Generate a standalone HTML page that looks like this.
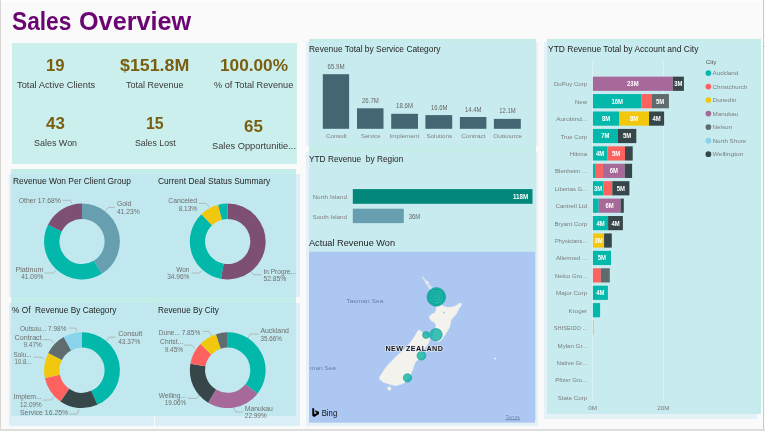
<!DOCTYPE html>
<html lang="en"><head><meta charset="utf-8"><title>Sales Overview</title>
<style>
html,body{margin:0;padding:0}
body{width:765px;height:431px;overflow:hidden;background:#fafafa;position:relative;font-family:"Liberation Sans", sans-serif}
.b{position:absolute}
.t{position:absolute;line-height:1;white-space:nowrap;transform-origin:0 50%;display:block}
svg{position:absolute;left:0;top:0}
svg text{font-family:"Liberation Sans", sans-serif}
#wrap{position:absolute;left:0;top:0;width:765px;height:431px;will-change:transform}
</style></head><body><div id="wrap">
<div class="b" style="left:1px;top:0px;width:764.00px;height:1.50px;background:#fdfdfd"></div>
<div class="b" style="left:0px;top:0px;width:1.00px;height:431.00px;background:#d9d5d3"></div>
<div class="b" style="left:0px;top:429px;width:765.00px;height:2.00px;background:#dedede"></div>
<div class="b" style="left:763px;top:0px;width:1.00px;height:429.00px;background:#c9c9c9"></div>
<div class="b" style="left:763px;top:45.5px;width:2.00px;height:1.00px;background:#c9c9c9"></div>
<div class="b" style="left:12px;top:43px;width:285.00px;height:121.00px;background:#cbefed"></div>
<div class="b" style="left:11px;top:168.5px;width:285.30px;height:247.80px;background:#c4ece8"></div>
<div class="b" style="left:308.6px;top:39.4px;width:227.20px;height:380.60px;background:#c4ece8"></div>
<div class="b" style="left:546.5px;top:39.2px;width:214.00px;height:375.30px;background:#c4ece8"></div>
<div class="b" style="left:9px;top:174px;width:145.40px;height:123.20px;background:rgba(188,229,244,0.52)"></div>
<div class="b" style="left:154.9px;top:174px;width:145.10px;height:123.20px;background:rgba(188,229,244,0.52)"></div>
<div class="b" style="left:9px;top:302.6px;width:145.40px;height:123.40px;background:rgba(188,229,244,0.52)"></div>
<div class="b" style="left:154.9px;top:302.6px;width:145.10px;height:123.40px;background:rgba(188,229,244,0.52)"></div>
<div class="b" style="left:306px;top:42px;width:232.30px;height:104.10px;background:rgba(204,235,246,0.48)"></div>
<div class="b" style="left:306px;top:151.5px;width:232.30px;height:84.50px;background:rgba(204,235,246,0.48)"></div>
<div class="b" style="left:306px;top:236px;width:232.30px;height:189.90px;background:rgba(204,235,246,0.48)"></div>
<div class="b" style="left:544px;top:41.7px;width:212.50px;height:376.90px;background:rgba(204,235,246,0.48)"></div>
<svg width="765" height="431" viewBox="0 0 765 431">
<path d="M82.00 203.60A37.9 37.9 0 0 1 101.84 273.79L93.83 260.75A22.6 22.6 0 0 0 82.00 218.90Z" fill="#689fb0"/>
<path d="M101.84 273.79A37.9 37.9 0 0 1 48.04 224.68L61.75 231.47A22.6 22.6 0 0 0 93.83 260.75Z" fill="#01b8aa"/>
<path d="M48.04 224.68A37.9 37.9 0 0 1 82.00 203.60L82.00 218.90A22.6 22.6 0 0 0 61.75 231.47Z" fill="#7d4f73"/>
<text x="18.70" y="202.90" font-size="7.1" fill="#6f6f6f" textLength="42.10" lengthAdjust="spacingAndGlyphs" >Other 17.68%</text>
<text x="116.90" y="205.90" font-size="7.1" fill="#6f6f6f" textLength="14.50" lengthAdjust="spacingAndGlyphs" >Gold</text>
<text x="116.90" y="213.60" font-size="7.1" fill="#6f6f6f" textLength="22.70" lengthAdjust="spacingAndGlyphs" >41.23%</text>
<text x="15.40" y="271.70" font-size="7.1" fill="#6f6f6f" textLength="28.00" lengthAdjust="spacingAndGlyphs" >Platinum</text>
<text x="21.20" y="279.40" font-size="7.1" fill="#6f6f6f" textLength="22.20" lengthAdjust="spacingAndGlyphs" >41.09%</text>
<polyline points="62.60,200.30 70.20,200.30 72.00,203.60" fill="none" stroke="#a6a6a6" stroke-width="0.7"/>
<polyline points="105.40,210.50 108.50,207.40 114.90,207.40" fill="none" stroke="#a6a6a6" stroke-width="0.7"/>
<polyline points="44.70,273.00 53.60,273.00 56.20,270.50" fill="none" stroke="#a6a6a6" stroke-width="0.7"/>
<path d="M227.70 203.60A37.9 37.9 0 1 1 220.95 278.79L223.67 263.74A22.6 22.6 0 1 0 227.70 218.90Z" fill="#7d4f73"/>
<path d="M220.95 278.79A37.9 37.9 0 0 1 201.43 214.18L212.03 225.21A22.6 22.6 0 0 0 223.67 263.74Z" fill="#01b8aa"/>
<path d="M201.43 214.18A37.9 37.9 0 0 1 218.14 204.83L222.00 219.63A22.6 22.6 0 0 0 212.03 225.21Z" fill="#f2c80f"/>
<path d="M218.14 204.83A37.9 37.9 0 0 1 227.70 203.60L227.70 218.90A22.6 22.6 0 0 0 222.00 219.63Z" fill="#01b8aa"/>
<text x="168.30" y="202.90" font-size="7.1" fill="#6f6f6f" textLength="28.80" lengthAdjust="spacingAndGlyphs" >Canceled</text>
<text x="178.70" y="210.50" font-size="7.1" fill="#6f6f6f" textLength="18.40" lengthAdjust="spacingAndGlyphs" >8.13%</text>
<text x="176.20" y="271.70" font-size="7.1" fill="#6f6f6f" textLength="13.20" lengthAdjust="spacingAndGlyphs" >Won</text>
<text x="167.20" y="279.40" font-size="7.1" fill="#6f6f6f" textLength="22.20" lengthAdjust="spacingAndGlyphs" >34.96%</text>
<text x="263.40" y="273.50" font-size="7.1" fill="#6f6f6f" textLength="32.60" lengthAdjust="spacingAndGlyphs" >In Progre...</text>
<text x="263.40" y="281.40" font-size="7.1" fill="#6f6f6f" textLength="23.00" lengthAdjust="spacingAndGlyphs" >52.85%</text>
<polyline points="198.90,203.40 206.00,203.40 209.30,207.40" fill="none" stroke="#a6a6a6" stroke-width="0.7"/>
<polyline points="191.50,273.00 199.60,273.00 202.20,270.50" fill="none" stroke="#a6a6a6" stroke-width="0.7"/>
<polyline points="250.70,271.70 254.00,274.80 261.60,274.80" fill="none" stroke="#a6a6a6" stroke-width="0.7"/>
<path d="M82.00 332.30A37.9 37.9 0 0 1 97.34 404.86L91.14 390.87A22.6 22.6 0 0 0 82.00 347.60Z" fill="#01b8aa"/>
<path d="M97.34 404.86A37.9 37.9 0 0 1 60.46 401.38L69.16 388.80A22.6 22.6 0 0 0 91.14 390.87Z" fill="#374649"/>
<path d="M60.46 401.38A37.9 37.9 0 0 1 44.91 377.98L59.88 374.84A22.6 22.6 0 0 0 69.16 388.80Z" fill="#fd625e"/>
<path d="M44.91 377.98A37.9 37.9 0 0 1 48.29 352.89L61.90 359.88A22.6 22.6 0 0 0 59.88 374.84Z" fill="#f2c80f"/>
<path d="M48.29 352.89A37.9 37.9 0 0 1 63.78 336.97L71.14 350.38A22.6 22.6 0 0 0 61.90 359.88Z" fill="#5f6b6d"/>
<path d="M63.78 336.97A37.9 37.9 0 0 1 82.00 332.30L82.00 347.60A22.6 22.6 0 0 0 71.14 350.38Z" fill="#8ad4eb"/>
<text x="20.00" y="330.80" font-size="7.1" fill="#6f6f6f" textLength="46.40" lengthAdjust="spacingAndGlyphs" >Outsou... 7.98%</text>
<text x="14.60" y="339.70" font-size="7.1" fill="#6f6f6f" textLength="27.10" lengthAdjust="spacingAndGlyphs" >Contract</text>
<text x="23.50" y="346.60" font-size="7.1" fill="#6f6f6f" textLength="18.20" lengthAdjust="spacingAndGlyphs" >9.47%</text>
<text x="13.60" y="357.10" font-size="7.1" fill="#6f6f6f" textLength="17.80" lengthAdjust="spacingAndGlyphs" >Solu...</text>
<text x="14.60" y="364.00" font-size="7.1" fill="#6f6f6f" textLength="16.80" lengthAdjust="spacingAndGlyphs" >10.8...</text>
<text x="13.60" y="399.20" font-size="7.1" fill="#6f6f6f" textLength="28.10" lengthAdjust="spacingAndGlyphs" >Implem...</text>
<text x="20.00" y="406.80" font-size="7.1" fill="#6f6f6f" textLength="21.70" lengthAdjust="spacingAndGlyphs" >12.09%</text>
<text x="20.00" y="415.30" font-size="7.1" fill="#6f6f6f" textLength="48.20" lengthAdjust="spacingAndGlyphs" >Service 16.25%</text>
<text x="118.20" y="335.90" font-size="7.1" fill="#6f6f6f" textLength="24.00" lengthAdjust="spacingAndGlyphs" >Consult</text>
<text x="118.20" y="343.60" font-size="7.1" fill="#6f6f6f" textLength="22.20" lengthAdjust="spacingAndGlyphs" >43.37%</text>
<polyline points="69.20,328.10 76.10,328.10 76.60,331.60" fill="none" stroke="#a6a6a6" stroke-width="0.7"/>
<polyline points="42.50,339.70 50.60,339.70 54.10,343.20" fill="none" stroke="#a6a6a6" stroke-width="0.7"/>
<polyline points="33.20,357.10 41.30,357.10 44.10,359.00" fill="none" stroke="#a6a6a6" stroke-width="0.7"/>
<polyline points="42.50,400.00 51.30,400.00 54.10,396.60" fill="none" stroke="#a6a6a6" stroke-width="0.7"/>
<polyline points="69.20,414.00 77.30,414.00 78.90,409.30" fill="none" stroke="#a6a6a6" stroke-width="0.7"/>
<polyline points="106.70,340.50 109.30,337.20 115.60,337.20" fill="none" stroke="#a6a6a6" stroke-width="0.7"/>
<polyline points="203.20,331.40 209.00,331.40 211.50,335.80" fill="none" stroke="#a6a6a6" stroke-width="0.7"/>
<polyline points="184.20,345.10 191.50,345.10 195.20,348.70" fill="none" stroke="#a6a6a6" stroke-width="0.7"/>
<polyline points="187.90,398.40 196.90,398.40 200.00,394.30" fill="none" stroke="#a6a6a6" stroke-width="0.7"/>
<polyline points="247.50,338.30 250.40,334.10 258.50,334.10" fill="none" stroke="#a6a6a6" stroke-width="0.7"/>
<polyline points="233.40,407.20 235.80,412.00 243.10,412.00" fill="none" stroke="#a6a6a6" stroke-width="0.7"/>
<path d="M227.70 332.30A37.9 37.9 0 0 1 257.41 393.73L245.42 384.23A22.6 22.6 0 0 0 227.70 347.60Z" fill="#01b8aa"/>
<path d="M257.41 393.73A37.9 37.9 0 0 1 208.10 402.64L216.01 389.54A22.6 22.6 0 0 0 245.42 384.23Z" fill="#a66999"/>
<path d="M208.10 402.64A37.9 37.9 0 0 1 190.35 363.78L205.43 366.37A22.6 22.6 0 0 0 216.01 389.54Z" fill="#374649"/>
<path d="M190.35 363.78A37.9 37.9 0 0 1 200.33 343.98L211.38 354.56A22.6 22.6 0 0 0 205.43 366.37Z" fill="#fd625e"/>
<path d="M200.33 343.98A37.9 37.9 0 0 1 216.01 334.15L220.73 348.70A22.6 22.6 0 0 0 211.38 354.56Z" fill="#f2c80f"/>
<path d="M216.01 334.15A37.9 37.9 0 0 1 227.70 332.30L227.70 347.60A22.6 22.6 0 0 0 220.73 348.70Z" fill="#5f6b6d"/>
<text x="158.80" y="334.60" font-size="7.1" fill="#6f6f6f" textLength="41.40" lengthAdjust="spacingAndGlyphs" >Dune... 7.85%</text>
<text x="160.10" y="344.30" font-size="7.1" fill="#6f6f6f" textLength="23.00" lengthAdjust="spacingAndGlyphs" >Christ...</text>
<text x="164.70" y="352.00" font-size="7.1" fill="#6f6f6f" textLength="18.40" lengthAdjust="spacingAndGlyphs" >9.45%</text>
<text x="158.80" y="397.90" font-size="7.1" fill="#6f6f6f" textLength="27.30" lengthAdjust="spacingAndGlyphs" >Welling...</text>
<text x="164.70" y="404.80" font-size="7.1" fill="#6f6f6f" textLength="21.40" lengthAdjust="spacingAndGlyphs" >19.06%</text>
<text x="260.40" y="332.90" font-size="7.1" fill="#6f6f6f" textLength="28.50" lengthAdjust="spacingAndGlyphs" >Auckland</text>
<text x="260.40" y="340.50" font-size="7.1" fill="#6f6f6f" textLength="21.40" lengthAdjust="spacingAndGlyphs" >35.66%</text>
<text x="244.80" y="410.70" font-size="7.1" fill="#6f6f6f" textLength="28.10" lengthAdjust="spacingAndGlyphs" >Manukau</text>
<text x="244.80" y="418.30" font-size="7.1" fill="#6f6f6f" textLength="21.90" lengthAdjust="spacingAndGlyphs" >22.99%</text>
<rect x="322.80" y="74.20" width="26.30" height="54.60" fill="#446673" />
<text x="327.50" y="68.70" font-size="6.3" fill="#666" textLength="17.20" lengthAdjust="spacingAndGlyphs" >65.9M</text>
<text x="326.00" y="137.80" font-size="6.0" fill="#808080" textLength="20.70" lengthAdjust="spacingAndGlyphs" >Consult</text>
<rect x="357.00" y="108.30" width="26.50" height="20.50" fill="#446673" />
<text x="362.00" y="102.80" font-size="6.3" fill="#666" textLength="16.80" lengthAdjust="spacingAndGlyphs" >26.7M</text>
<text x="361.00" y="137.80" font-size="6.0" fill="#808080" textLength="19.40" lengthAdjust="spacingAndGlyphs" >Service</text>
<rect x="391.20" y="113.80" width="26.80" height="15.00" fill="#446673" />
<text x="396.00" y="108.30" font-size="6.3" fill="#666" textLength="17.20" lengthAdjust="spacingAndGlyphs" >18.6M</text>
<text x="389.50" y="137.80" font-size="6.0" fill="#808080" textLength="29.80" lengthAdjust="spacingAndGlyphs" >Implement</text>
<rect x="425.40" y="115.10" width="26.80" height="13.70" fill="#446673" />
<text x="431.00" y="109.60" font-size="6.3" fill="#666" textLength="16.40" lengthAdjust="spacingAndGlyphs" >16.6M</text>
<text x="426.50" y="137.80" font-size="6.0" fill="#808080" textLength="25.50" lengthAdjust="spacingAndGlyphs" >Solutions</text>
<rect x="459.90" y="117.00" width="26.50" height="11.80" fill="#446673" />
<text x="465.00" y="111.50" font-size="6.3" fill="#666" textLength="16.60" lengthAdjust="spacingAndGlyphs" >14.4M</text>
<text x="461.30" y="137.80" font-size="6.0" fill="#808080" textLength="24.10" lengthAdjust="spacingAndGlyphs" >Contract</text>
<rect x="493.90" y="118.90" width="26.90" height="9.90" fill="#446673" />
<text x="499.20" y="113.40" font-size="6.3" fill="#666" textLength="16.40" lengthAdjust="spacingAndGlyphs" >12.1M</text>
<text x="493.30" y="137.80" font-size="6.0" fill="#808080" textLength="28.80" lengthAdjust="spacingAndGlyphs" >Outsource</text>
<rect x="352.80" y="189.10" width="179.70" height="14.70" fill="#02877a" />
<rect x="352.80" y="208.70" width="51.00" height="14.40" fill="#689fb0" />
<text x="312.50" y="198.80" font-size="6.0" fill="#808080" textLength="34.50" lengthAdjust="spacingAndGlyphs" >North Island</text>
<text x="312.50" y="218.70" font-size="6.0" fill="#808080" textLength="34.50" lengthAdjust="spacingAndGlyphs" >South Island</text>
<text x="408.80" y="218.70" font-size="6.3" fill="#666" textLength="11.50" lengthAdjust="spacingAndGlyphs" >36M</text>
<text x="512.90" y="198.80" font-size="6.3" fill="#fff" font-weight="700" textLength="15.30" lengthAdjust="spacingAndGlyphs" >118M</text>
<line x1="592.6" y1="61.3" x2="592.6" y2="400.7" stroke="#dcf3f5" stroke-width="1"/>
<line x1="663.4" y1="61.3" x2="663.4" y2="400.7" stroke="#dcf3f5" stroke-width="1"/>
<rect x="592.90" y="76.65" width="79.90" height="14.20" fill="#a66999" />
<text x="627.09" y="86.15" font-size="6.3" fill="#fff" font-weight="700" textLength="11.52" lengthAdjust="spacingAndGlyphs" >23M</text>
<rect x="672.80" y="76.65" width="11.10" height="14.20" fill="#374649" />
<text x="674.24" y="86.15" font-size="6.3" fill="#fff" font-weight="700" textLength="8.23" lengthAdjust="spacingAndGlyphs" >3M</text>
<text x="553.90" y="86.25" font-size="5.9" fill="#7c7c7c" textLength="33.30" lengthAdjust="spacingAndGlyphs" >DuPuy Corp</text>
<rect x="592.90" y="94.07" width="48.60" height="14.20" fill="#01b8aa" />
<text x="611.44" y="103.57" font-size="6.3" fill="#fff" font-weight="700" textLength="11.52" lengthAdjust="spacingAndGlyphs" >16M</text>
<rect x="641.50" y="94.07" width="10.00" height="14.20" fill="#fd625e" />
<rect x="651.50" y="94.07" width="17.40" height="14.20" fill="#5f6b6d" />
<text x="656.09" y="103.57" font-size="6.3" fill="#fff" font-weight="700" textLength="8.23" lengthAdjust="spacingAndGlyphs" >5M</text>
<text x="574.80" y="103.67" font-size="5.9" fill="#7c7c7c" textLength="12.40" lengthAdjust="spacingAndGlyphs" >New</text>
<rect x="592.90" y="111.49" width="26.50" height="14.20" fill="#01b8aa" />
<text x="602.04" y="120.99" font-size="6.3" fill="#fff" font-weight="700" textLength="8.23" lengthAdjust="spacingAndGlyphs" >8M</text>
<rect x="619.40" y="111.49" width="29.60" height="14.20" fill="#f2c80f" />
<text x="630.09" y="120.99" font-size="6.3" fill="#fff" font-weight="700" textLength="8.23" lengthAdjust="spacingAndGlyphs" >8M</text>
<rect x="649.00" y="111.49" width="15.10" height="14.20" fill="#374649" />
<text x="652.44" y="120.99" font-size="6.3" fill="#fff" font-weight="700" textLength="8.23" lengthAdjust="spacingAndGlyphs" >4M</text>
<text x="556.30" y="121.09" font-size="5.9" fill="#7c7c7c" textLength="30.90" lengthAdjust="spacingAndGlyphs" >Aurobind...</text>
<rect x="592.90" y="128.91" width="24.80" height="14.20" fill="#01b8aa" />
<text x="601.19" y="138.41" font-size="6.3" fill="#fff" font-weight="700" textLength="8.23" lengthAdjust="spacingAndGlyphs" >7M</text>
<rect x="617.70" y="128.91" width="18.60" height="14.20" fill="#374649" />
<text x="622.89" y="138.41" font-size="6.3" fill="#fff" font-weight="700" textLength="8.23" lengthAdjust="spacingAndGlyphs" >5M</text>
<text x="560.70" y="138.51" font-size="5.9" fill="#7c7c7c" textLength="26.50" lengthAdjust="spacingAndGlyphs" >True Corp</text>
<rect x="592.90" y="146.33" width="14.40" height="14.20" fill="#01b8aa" />
<text x="595.99" y="155.83" font-size="6.3" fill="#fff" font-weight="700" textLength="8.23" lengthAdjust="spacingAndGlyphs" >4M</text>
<rect x="607.30" y="146.33" width="17.70" height="14.20" fill="#fd625e" />
<text x="612.04" y="155.83" font-size="6.3" fill="#fff" font-weight="700" textLength="8.23" lengthAdjust="spacingAndGlyphs" >5M</text>
<rect x="625.00" y="146.33" width="7.70" height="14.20" fill="#374649" />
<text x="569.70" y="155.93" font-size="5.9" fill="#7c7c7c" textLength="17.50" lengthAdjust="spacingAndGlyphs" >Hikma</text>
<rect x="592.90" y="163.75" width="2.90" height="14.20" fill="#01b8aa" />
<rect x="595.80" y="163.75" width="7.10" height="14.20" fill="#fd625e" />
<rect x="602.90" y="163.75" width="21.90" height="14.20" fill="#a66999" />
<text x="609.74" y="173.25" font-size="6.3" fill="#fff" font-weight="700" textLength="8.23" lengthAdjust="spacingAndGlyphs" >6M</text>
<rect x="624.80" y="163.75" width="7.30" height="14.20" fill="#374649" />
<text x="555.00" y="173.35" font-size="5.9" fill="#7c7c7c" textLength="32.20" lengthAdjust="spacingAndGlyphs" >Blenheim ...</text>
<rect x="592.90" y="181.17" width="10.60" height="14.20" fill="#01b8aa" />
<text x="594.09" y="190.67" font-size="6.3" fill="#fff" font-weight="700" textLength="8.23" lengthAdjust="spacingAndGlyphs" >3M</text>
<rect x="603.50" y="181.17" width="8.80" height="14.20" fill="#fd625e" />
<rect x="612.30" y="181.17" width="17.10" height="14.20" fill="#374649" />
<text x="616.74" y="190.67" font-size="6.3" fill="#fff" font-weight="700" textLength="8.23" lengthAdjust="spacingAndGlyphs" >5M</text>
<text x="554.80" y="190.77" font-size="5.9" fill="#7c7c7c" textLength="32.40" lengthAdjust="spacingAndGlyphs" >Libertas G...</text>
<rect x="592.90" y="198.59" width="5.80" height="14.20" fill="#01b8aa" />
<rect x="598.70" y="198.59" width="21.90" height="14.20" fill="#a66999" />
<text x="605.54" y="208.09" font-size="6.3" fill="#fff" font-weight="700" textLength="8.23" lengthAdjust="spacingAndGlyphs" >6M</text>
<rect x="620.60" y="198.59" width="3.20" height="14.20" fill="#374649" />
<text x="555.40" y="208.19" font-size="5.9" fill="#7c7c7c" textLength="31.80" lengthAdjust="spacingAndGlyphs" >Cantrell Ltd</text>
<rect x="592.90" y="216.01" width="15.20" height="14.20" fill="#01b8aa" />
<text x="596.39" y="225.51" font-size="6.3" fill="#fff" font-weight="700" textLength="8.23" lengthAdjust="spacingAndGlyphs" >4M</text>
<rect x="608.10" y="216.01" width="14.80" height="14.20" fill="#374649" />
<text x="611.39" y="225.51" font-size="6.3" fill="#fff" font-weight="700" textLength="8.23" lengthAdjust="spacingAndGlyphs" >4M</text>
<text x="554.40" y="225.61" font-size="5.9" fill="#7c7c7c" textLength="32.80" lengthAdjust="spacingAndGlyphs" >Bryant Corp</text>
<rect x="592.90" y="233.43" width="11.20" height="14.20" fill="#f2c80f" />
<text x="594.39" y="242.93" font-size="6.3" fill="#fff" font-weight="700" textLength="8.23" lengthAdjust="spacingAndGlyphs" >3M</text>
<rect x="604.10" y="233.43" width="7.70" height="14.20" fill="#374649" />
<text x="555.00" y="243.03" font-size="5.9" fill="#7c7c7c" textLength="32.20" lengthAdjust="spacingAndGlyphs" >Physicians...</text>
<rect x="592.90" y="250.85" width="18.10" height="14.20" fill="#01b8aa" />
<text x="597.84" y="260.35" font-size="6.3" fill="#fff" font-weight="700" textLength="8.23" lengthAdjust="spacingAndGlyphs" >5M</text>
<text x="555.90" y="260.45" font-size="5.9" fill="#7c7c7c" textLength="31.30" lengthAdjust="spacingAndGlyphs" >Allermed ...</text>
<rect x="592.90" y="268.27" width="7.90" height="14.20" fill="#fd625e" />
<rect x="600.80" y="268.27" width="9.00" height="14.20" fill="#5f6b6d" />
<text x="554.80" y="277.87" font-size="5.9" fill="#7c7c7c" textLength="32.40" lengthAdjust="spacingAndGlyphs" >Nelco Gro...</text>
<rect x="592.90" y="285.69" width="15.00" height="14.20" fill="#01b8aa" />
<text x="596.29" y="295.19" font-size="6.3" fill="#fff" font-weight="700" textLength="8.23" lengthAdjust="spacingAndGlyphs" >4M</text>
<text x="556.10" y="295.29" font-size="5.9" fill="#7c7c7c" textLength="31.10" lengthAdjust="spacingAndGlyphs" >Major Corp</text>
<rect x="592.90" y="303.11" width="7.20" height="14.20" fill="#01b8aa" />
<text x="568.60" y="312.71" font-size="5.9" fill="#7c7c7c" textLength="18.60" lengthAdjust="spacingAndGlyphs" >Kroger</text>
<rect x="592.90" y="320.53" width="0.90" height="14.20" fill="#f2c80f" />
<text x="553.80" y="330.13" font-size="5.9" fill="#7c7c7c" textLength="33.40" lengthAdjust="spacingAndGlyphs" >SHISEIDO ...</text>
<text x="557.60" y="347.55" font-size="5.9" fill="#7c7c7c" textLength="29.60" lengthAdjust="spacingAndGlyphs" >Mylan Gr...</text>
<text x="556.50" y="364.97" font-size="5.9" fill="#7c7c7c" textLength="30.70" lengthAdjust="spacingAndGlyphs" >Native Gr...</text>
<text x="555.20" y="382.39" font-size="5.9" fill="#7c7c7c" textLength="32.00" lengthAdjust="spacingAndGlyphs" >Pfizer Gro...</text>
<text x="557.80" y="399.81" font-size="5.9" fill="#7c7c7c" textLength="29.40" lengthAdjust="spacingAndGlyphs" >State Corp</text>
<text x="588.20" y="410.00" font-size="5.9" fill="#7c7c7c" textLength="8.80" lengthAdjust="spacingAndGlyphs" >0M</text>
<text x="657.15" y="410.00" font-size="5.9" fill="#7c7c7c" textLength="12.30" lengthAdjust="spacingAndGlyphs" >20M</text>
<text x="705.70" y="64.20" font-size="6.0" fill="#555" textLength="10.70" lengthAdjust="spacingAndGlyphs" >City</text>
<circle cx="708.4" cy="73.00" r="2.85" fill="#01b8aa"/>
<text x="712.60" y="75.20" font-size="5.9" fill="#7c7c7c" textLength="25.70" lengthAdjust="spacingAndGlyphs" >Auckland</text>
<circle cx="708.4" cy="86.53" r="2.85" fill="#fd625e"/>
<text x="712.60" y="88.73" font-size="5.9" fill="#7c7c7c" textLength="34.80" lengthAdjust="spacingAndGlyphs" >Christchurch</text>
<circle cx="708.4" cy="100.06" r="2.85" fill="#f2c80f"/>
<text x="712.60" y="102.26" font-size="5.9" fill="#7c7c7c" textLength="23.80" lengthAdjust="spacingAndGlyphs" >Dunedin</text>
<circle cx="708.4" cy="113.59" r="2.85" fill="#a66999"/>
<text x="712.60" y="115.79" font-size="5.9" fill="#7c7c7c" textLength="25.70" lengthAdjust="spacingAndGlyphs" >Manukau</text>
<circle cx="708.4" cy="127.12" r="2.85" fill="#5f6b6d"/>
<text x="712.60" y="129.32" font-size="5.9" fill="#7c7c7c" textLength="19.50" lengthAdjust="spacingAndGlyphs" >Nelson</text>
<circle cx="708.4" cy="140.65" r="2.85" fill="#8ad4eb"/>
<text x="712.60" y="142.85" font-size="5.9" fill="#7c7c7c" textLength="33.70" lengthAdjust="spacingAndGlyphs" >North Shore</text>
<circle cx="708.4" cy="154.18" r="2.85" fill="#374649"/>
<text x="712.60" y="156.38" font-size="5.9" fill="#7c7c7c" textLength="30.80" lengthAdjust="spacingAndGlyphs" >Wellington</text>
<rect x="309.00" y="251.80" width="226.10" height="170.90" fill="#abc7f2" />
<polygon points="421.8,276.2 422.8,276.4 424.6,278.4 426.4,280.6 428.2,281.8 429.4,283.6 430.6,285.6 432.6,287.6 434.8,290.2 437.4,293.6 439.6,298.0 436.4,301.0 434.4,298.0 432.6,295.0 430.6,291.6 428.6,288.2 426.6,284.8 424.8,281.6 423.2,279.0 421.8,277.2" fill="#f4f2ed" fill-opacity="0.62"/>
<ellipse cx="426.9" cy="282.3" rx="1.5" ry="1.2" fill="#f4f2ed" fill-opacity="0.8"/>
<polygon points="436.6,300.0 439.5,299.0 440.6,302.5 441.6,305.0 444.0,306.6 447.4,307.4 451.0,307.2 454.3,306.5 457.5,304.8 460.4,303.0 461.6,303.8 461.3,305.2 460.0,307.2 458.7,309.1 457.4,311.8 456.1,314.3 454.4,316.2 452.6,317.8 450.9,320.4 450.4,323.0 450.0,325.7 448.8,328.4 447.4,330.9 446.0,333.2 444.8,335.2 443.4,337.2 442.2,338.7 440.8,340.4 439.2,341.6 437.2,341.6 435.0,340.4 433.4,338.8 432.4,337.0 433.4,334.0 434.6,331.0 435.8,328.0 436.1,325.7 435.2,323.6 434.3,322.2 432.4,321.4 430.9,320.4 429.8,318.6 429.5,316.6 430.4,315.2 431.7,314.3 433.4,313.6 435.2,312.6 435.8,311.0 436.1,309.1 436.4,307.4 436.6,305.7 435.6,303.0" fill="#f4f2ed" stroke="#f4f2ed" stroke-width="0.6" stroke-linejoin="round"/>
<polygon points="418.9,329.9 421.3,331.5 423.0,333.0 425.0,334.4 427.6,336.4 429.6,338.6 429.4,341.0 428.4,343.2 427.0,345.3 425.4,347.4 423.8,349.4 422.4,352.0 423.6,354.4 424.4,356.6 421.6,358.0 419.0,358.6 417.3,360.0 414.8,363.2 413.8,365.8 413.2,368.1 411.6,372.2 409.8,375.2 407.6,378.4 404.3,382.7 401.0,384.3 396.1,385.5 391.3,384.8 387.2,383.5 383.1,381.9 379.9,379.5 379.6,377.0 382.3,373.0 384.8,368.9 388.8,364.0 392.9,360.0 397.8,355.1 402.6,351.0 406.7,347.0 410.0,342.9 413.2,338.8 415.7,334.8 417.6,331.2" fill="#f4f2ed" stroke="#f4f2ed" stroke-width="0.6" stroke-linejoin="round"/>
<ellipse cx="389.3" cy="388.6" rx="1.9" ry="2.0" fill="#f4f2ed"/>
<circle cx="495.3" cy="358.5" r="0.9" fill="#f4f2ed"/>
<ellipse cx="443.9" cy="312.6" rx="1.1" ry="0.8" fill="#abc7f2"/>
<text x="346.30" y="302.90" font-size="6.0" fill="#6a80a6" textLength="37.10" lengthAdjust="spacingAndGlyphs" >Tasman Sea</text>
<text x="310.10" y="370.20" font-size="6.0" fill="#6a80a6" textLength="25.80" lengthAdjust="spacingAndGlyphs" >man Sea</text>
<circle cx="436.3" cy="296.9" r="9.3" fill="#12b5a6" fill-opacity="0.92" stroke="#0f9a8d" stroke-width="0.6"/>
<circle cx="436.2" cy="296.8" r="7.7" fill="#12b5a6" fill-opacity="0.0" stroke="#0f9a8d" stroke-width="1.0"/>
<circle cx="435.9" cy="296.6" r="5.1" fill="#12b5a6" fill-opacity="0.12" stroke="#0f9a8d" stroke-width="0.7"/>
<circle cx="435.5" cy="296.3" r="2.6" fill="#12b5a6" fill-opacity="0.2" stroke="#0f9a8d" stroke-width="0.7"/>
<circle cx="436.0" cy="334.7" r="6.2" fill="#12b5a6" fill-opacity="0.82" stroke="#0f9a8d" stroke-width="0.6"/>
<circle cx="426.0" cy="335.0" r="3.4" fill="#12b5a6" fill-opacity="0.82" stroke="#0f9a8d" stroke-width="0.6"/>
<circle cx="421.4" cy="355.7" r="4.4" fill="#12b5a6" fill-opacity="0.82" stroke="#0f9a8d" stroke-width="0.6"/>
<circle cx="407.5" cy="377.9" r="4.2" fill="#12b5a6" fill-opacity="0.82" stroke="#0f9a8d" stroke-width="0.6"/>
<text x="385.5" y="350.9" font-size="7.2" font-weight="700" fill="#111" stroke="#e6ecf8" stroke-width="1.2" stroke-linejoin="round" paint-order="stroke" textLength="57.4" lengthAdjust="spacing">NEW ZEALAND</text>
<path d="M312.3 407.9 L314.2 408.6 L314.2 414.0 L317.0 412.9 L315.6 412.2 L314.9 410.3 L319.0 411.8 L319.0 414.0 L314.2 416.9 L312.3 415.8 Z" fill="#000"/>
<text x="321.70" y="415.80" font-size="8.4" fill="#111" textLength="15.50" lengthAdjust="spacingAndGlyphs" >Bing</text>
<text x="505.6" y="418.9" font-size="5.6" fill="#4a66a6" stroke="#dde7fa" stroke-width="0.5" paint-order="stroke" textLength="14.4" lengthAdjust="spacingAndGlyphs">Terms</text>
<line x1="505.6" y1="419.7" x2="520.0" y2="419.7" stroke="#4a66a6" stroke-width="0.7"/>
</svg>
<span class="t" style="left:12.10px;top:9px;font-size:25.8px;color:#6a0572;font-weight:700;transform:scaleX(0.8810);">Sales</span>
<span class="t" style="left:78.70px;top:9px;font-size:25.8px;color:#6a0572;font-weight:700;transform:scaleX(0.9779);">Overview</span>
<span class="t" style="left:46.30px;top:58px;font-size:16px;color:#7a5e10;font-weight:700;transform:scaleX(1.0451);">19</span>
<span class="t" style="left:16.50px;top:80px;font-size:9.8px;color:#3a3a3a;transform:scaleX(0.9508);">Total Active Clients</span>
<span class="t" style="left:119.60px;top:58px;font-size:16px;color:#7a5e10;font-weight:700;transform:scaleX(1.1130);">$151.8M</span>
<span class="t" style="left:125.60px;top:80px;font-size:9.8px;color:#3a3a3a;transform:scaleX(0.9178);">Total Revenue</span>
<span class="t" style="left:219.70px;top:58px;font-size:16px;color:#7a5e10;font-weight:700;transform:scaleX(1.0766);">100.00%</span>
<span class="t" style="left:213.70px;top:80px;font-size:9.8px;color:#3a3a3a;transform:scaleX(0.9351);">% of Total Revenue</span>
<span class="t" style="left:45.70px;top:116px;font-size:16px;color:#7a5e10;font-weight:700;transform:scaleX(1.0564);">43</span>
<span class="t" style="left:33.90px;top:138px;font-size:9.8px;color:#3a3a3a;transform:scaleX(0.9129);">Sales Won</span>
<span class="t" style="left:145.80px;top:116px;font-size:16px;color:#7a5e10;font-weight:700;transform:scaleX(0.9945);">15</span>
<span class="t" style="left:134.50px;top:138px;font-size:9.8px;color:#3a3a3a;transform:scaleX(0.8916);">Sales Lost</span>
<span class="t" style="left:243.80px;top:119px;font-size:16px;color:#7a5e10;font-weight:700;transform:scaleX(1.0564);">65</span>
<span class="t" style="left:211.60px;top:141px;font-size:9.8px;color:#3a3a3a;transform:scaleX(0.9460);">Sales Opportunitie...</span>
<span class="t" style="left:12.50px;top:176px;font-size:9.4px;color:#252423;transform:scaleX(0.8953);">Revenue Won Per Client Group</span>
<span class="t" style="left:158.30px;top:176px;font-size:9.4px;color:#252423;transform:scaleX(0.8973);">Current Deal Status Summary</span>
<span class="t" style="left:12.30px;top:305px;font-size:9.4px;color:#252423;transform:scaleX(0.8867);white-space:pre;">% Of  Revenue By Category</span>
<span class="t" style="left:158.30px;top:305px;font-size:9.4px;color:#252423;transform:scaleX(0.8713);">Revenue By City</span>
<span class="t" style="left:309.20px;top:44px;font-size:9.4px;color:#252423;transform:scaleX(0.8955);">Revenue Total by Service Category</span>
<span class="t" style="left:308.90px;top:154px;font-size:9.4px;color:#252423;transform:scaleX(0.8866);white-space:pre;">YTD Revenue  by Region</span>
<span class="t" style="left:309.30px;top:238px;font-size:9.4px;color:#252423;transform:scaleX(0.9792);">Actual Revenue Won</span>
<span class="t" style="left:547.70px;top:44px;font-size:9.4px;color:#252423;transform:scaleX(0.9028);">YTD Revenue Total by Account and City</span>
</div></body></html>
